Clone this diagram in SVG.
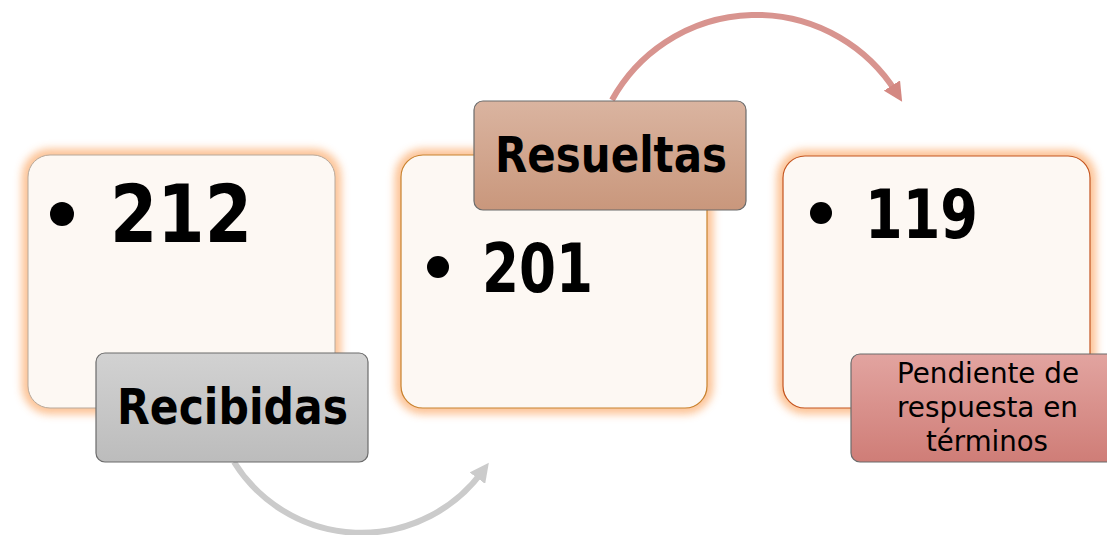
<svg xmlns="http://www.w3.org/2000/svg" width="1107" height="535" viewBox="0 0 1107 535">
<defs>
<style>
.box{fill:#fdf8f3;}
.glow{fill:none;stroke:#fcb984;stroke-width:12;opacity:0.9;filter:url(#blur);}
.big{font-family:"DejaVu Sans","Verdana",sans-serif;font-weight:bold;fill:#000;}
.lab{stroke:#6b6b6b;stroke-width:1.2;}
.lt{font-family:"DejaVu Sans","Verdana",sans-serif;fill:#000;}
.conn{fill:none;stroke-width:6;}
</style>
<filter id="blur" x="-20%" y="-20%" width="140%" height="140%"><feGaussianBlur stdDeviation="4"/></filter>
<linearGradient id="gGray" x1="0" y1="0" x2="0" y2="1"><stop offset="0" stop-color="#d2d2d2"/><stop offset="1" stop-color="#bcbcbc"/></linearGradient>
<linearGradient id="gBrown" x1="0" y1="0" x2="0" y2="1"><stop offset="0" stop-color="#dab4a0"/><stop offset="1" stop-color="#c9977c"/></linearGradient>
<linearGradient id="gRed" x1="0" y1="0" x2="0" y2="1"><stop offset="0" stop-color="#e2a4a0"/><stop offset="1" stop-color="#cf7d77"/></linearGradient>
<marker id="ahGray" viewBox="0 0 10 10" refX="4" refY="5" markerWidth="3.2" markerHeight="3.2" orient="auto"><path d="M0,0 L10,5 L0,10 z" fill="#cbcbcb"/></marker>
<marker id="ahRed" viewBox="0 0 10 10" refX="4" refY="5" markerWidth="3.2" markerHeight="3.2" orient="auto"><path d="M0,0 L10,5 L0,10 z" fill="#d48882"/></marker>
</defs>
<rect width="1107" height="535" fill="#fff"/>
<g id="connectors">
<path class="conn" d="M234,462 A150,150 0 0 0 482,472" stroke="#cbcbcb" marker-end="url(#ahGray)"/>
<path class="conn" d="M612,100 A165,165 0 0 1 896,92" stroke="#d8948f" marker-end="url(#ahRed)"/>
</g>
<g id="node-212">
<rect class="glow" x="28" y="155" width="307" height="253" rx="22"/>
<rect class="box" x="28" y="155" width="307" height="253" rx="22" stroke="#b7a89a" stroke-width="1"/>
<circle cx="62" cy="214" r="12"/>
<text class="big" x="110" y="242" font-size="80" textLength="142" lengthAdjust="spacingAndGlyphs">212</text>
</g>
<g id="node-recibidas">
<rect class="lab" x="96" y="353" width="272" height="109" rx="9" fill="url(#gGray)"/>
<text class="big" x="117" y="424" font-size="50" textLength="231" lengthAdjust="spacingAndGlyphs">Recibidas</text>
</g>
<g id="node-201">
<rect class="glow" x="401" y="155" width="306" height="253" rx="22"/>
<rect class="box" x="401" y="155" width="306" height="253" rx="22" stroke="#c8822e" stroke-width="1.2"/>
<circle cx="438" cy="267" r="11"/>
<text class="big" x="482" y="292" font-size="68" textLength="111" lengthAdjust="spacingAndGlyphs">201</text>
</g>
<g id="node-resueltas">
<rect class="lab" x="474" y="101" width="272" height="109" rx="9" fill="url(#gBrown)"/>
<text class="big" x="495" y="172" font-size="50" textLength="232" lengthAdjust="spacingAndGlyphs">Resueltas</text>
</g>
<g id="node-119">
<rect class="glow" x="783" y="156" width="307" height="252" rx="22"/>
<rect class="box" x="783" y="156" width="307" height="252" rx="22" stroke="#c4541e" stroke-width="1.2"/>
<circle cx="821" cy="213" r="11"/>
<text class="big" x="865" y="238" font-size="68" textLength="113" lengthAdjust="spacingAndGlyphs">119</text>
</g>
<g id="node-pendiente">
<rect class="lab" x="851" y="354" width="272" height="108" rx="9" fill="url(#gRed)"/>
<text class="lt" x="897" y="383" font-size="29" textLength="182" lengthAdjust="spacingAndGlyphs">Pendiente de</text>
<text class="lt" x="897" y="417" font-size="29" textLength="181" lengthAdjust="spacingAndGlyphs">respuesta en</text>
<text class="lt" x="926" y="451" font-size="29" textLength="122" lengthAdjust="spacingAndGlyphs">términos</text>
</g>
</svg>
